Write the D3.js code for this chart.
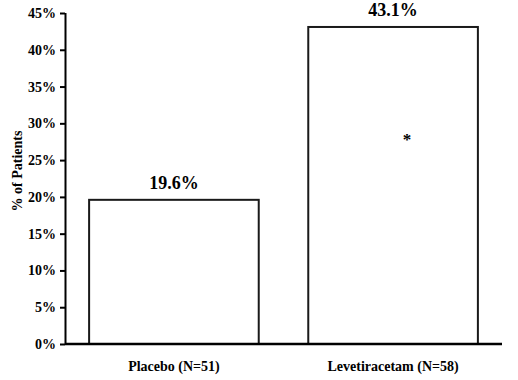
<!DOCTYPE html>
<html>
<head>
<meta charset="utf-8">
<script src="https://cdn.jsdelivr.net/npm/d3@7"></script>
<style>
  body { margin: 0; background: #fff; }
  text { font-family: "Liberation Serif", "Times New Roman", serif; font-weight: bold; fill: #000; }
</style>
</head>
<body>
<svg id="chart" width="518" height="380"></svg>
<script>
const groups = ["Placebo (N=51)", "Levetiracetam (N=58)"];
const percents = [19.6, 43.1];
const valueLabels = ["19.6%", "43.1%"];
const yTicks = [0, 5, 10, 15, 20, 25, 30, 35, 40, 45];
const yTitle = "% of Patients";

function drawChart() {
  const svg = d3.select('#chart')
  const margin = { left: 65, top: 13, right: 16, bottom: 36 }
  const width = 518, height = 380

  const xScale = d3.scaleBand()
    .domain(groups)
    .range([margin.left, width - margin.right])
    .paddingInner(0.226)
    .paddingOuter(0.11)

  const yScale = d3.scaleLinear()
    .domain([0, 45])
    .range([height - margin.bottom, margin.top])

  // y axis
  const yAxis = svg.append('g')
    .attr('transform', `translate(${margin.left},0)`)
    .call(d3.axisLeft(yScale).tickValues(yTicks).tickFormat(d => d + '%').tickSize(5).tickPadding(4))
  yAxis.select('.domain').attr('stroke', '#000').attr('stroke-width', 2)
    .attr('d', `M0.5,${yScale(45)}V${yScale(0)}`)
  yAxis.selectAll('.tick line').attr('stroke', '#000').attr('stroke-width', 2)
  yAxis.selectAll('.tick text')
    .style('font-family', '"Liberation Serif", serif')
    .style('font-weight', 'bold')
    .style('font-size', '14px')

  // bars
  svg.append('g').selectAll('rect')
    .data(percents)
    .join('rect')
      .attr('x', (d, i) => xScale(groups[i]))
      .attr('y', d => yScale(d))
      .attr('width', xScale.bandwidth())
      .attr('height', d => yScale(0) - yScale(d))
      .attr('fill', '#fff')
      .attr('stroke', '#1a1a1a')
      .attr('stroke-width', 2)

  // x axis line
  svg.append('line')
    .attr('x1', margin.left)
    .attr('x2', width - margin.right)
    .attr('y1', yScale(0))
    .attr('y2', yScale(0))
    .attr('stroke', '#000')
    .attr('stroke-width', 2.5)

  // value labels
  svg.append('g').selectAll('text')
    .data(percents)
    .join('text')
      .attr('x', (d, i) => xScale(groups[i]) + xScale.bandwidth() / 2)
      .attr('y', d => yScale(d) - 11)
      .attr('text-anchor', 'middle')
      .style('font-size', '18px')
      .text((d, i) => valueLabels[i])

  // category labels
  svg.append('g').selectAll('text')
    .data(groups)
    .join('text')
      .attr('x', d => xScale(d) + xScale.bandwidth() / 2)
      .attr('y', height - 9)
      .attr('text-anchor', 'middle')
      .style('font-size', '14px')
      .text(d => d)

  // significance mark
  svg.append('text')
    .attr('x', xScale(groups[1]) + xScale.bandwidth() / 2 + 14)
    .attr('y', yScale(27))
    .attr('text-anchor', 'middle')
    .style('font-size', '17px')
    .text('*')

  svg.append('text')
    .attr('transform', 'rotate(-90)')
    .attr('x', -171)
    .attr('y', 22)
    .attr('text-anchor', 'middle')
    .style('font-size', '14px')
    .text(yTitle)
}

window.onload = drawChart;
</script>
</body>
</html>
